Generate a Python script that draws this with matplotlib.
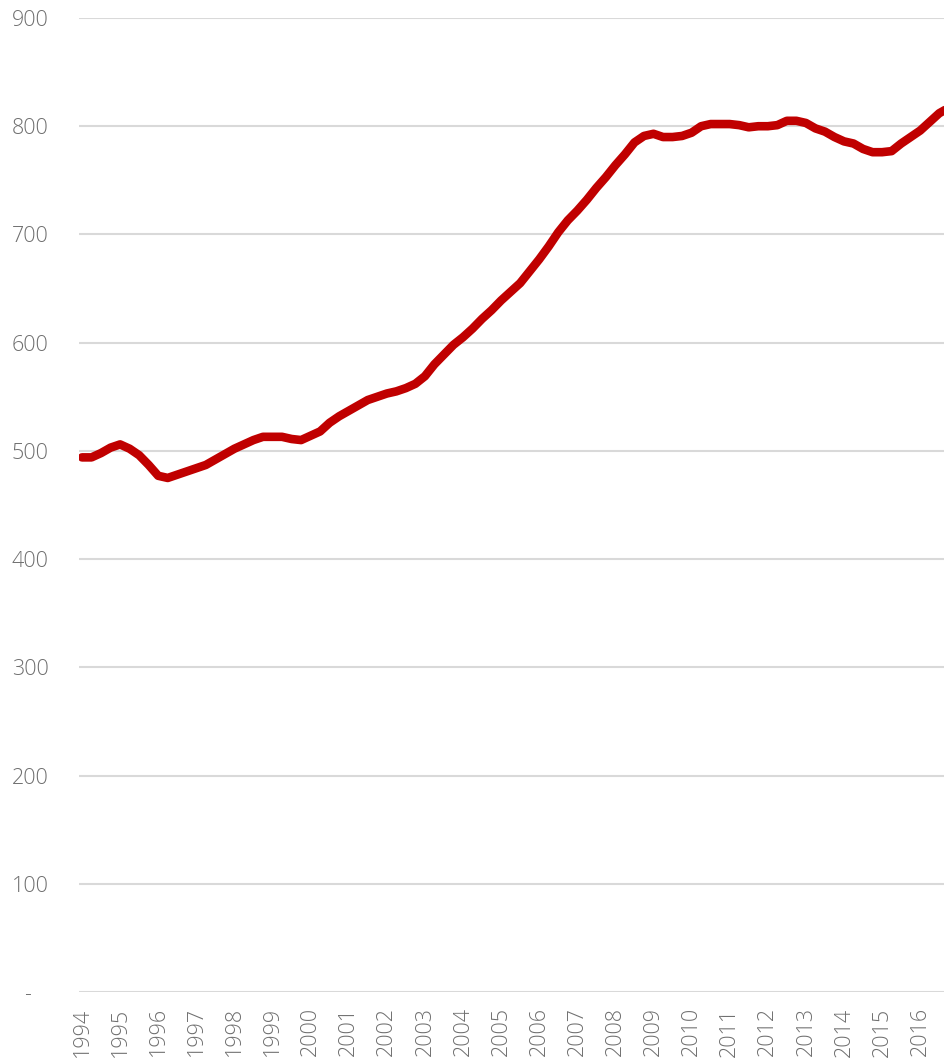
import matplotlib
matplotlib.use("Agg")
import matplotlib.pyplot as plt
import numpy as np

# Quarterly readings, starting Q1 1994
start_year = 1994
values = [
    494, 494, 498, 503,   # 1994
    506, 502, 496, 487,   # 1995
    477, 475, 478, 481,   # 1996
    484, 487, 492, 497,   # 1997
    502, 506, 510, 513,   # 1998
    513, 513, 511, 510,   # 1999
    514, 518, 526, 532,   # 2000
    537, 542, 547, 550,   # 2001
    553, 555, 558, 562,   # 2002
    569, 580, 589, 598,   # 2003
    605, 613, 622, 630,   # 2004
    639, 647, 655, 666,   # 2005
    677, 689, 702, 713,   # 2006
    722, 732, 743, 753,   # 2007
    764, 774, 785, 791,   # 2008
    793, 790, 790, 791,   # 2009
    794, 800, 802, 802,   # 2010
    802, 801, 799, 800,   # 2011
    800, 801, 805, 805,   # 2012
    803, 798, 795, 790,   # 2013
    786, 784, 779, 776,   # 2014
    776, 777, 784, 790,   # 2015
    796, 804, 812, 817,   # 2016
]
year_labels = [str(y) for y in range(1994, 2017)]
y_ticks = [0, 100, 200, 300, 400, 500, 600, 700, 800, 900]
y_tick_labels = ["-   ", "100", "200", "300", "400", "500", "600", "700", "800", "900"]

t = start_year + np.arange(len(values)) / 4.0

fig = plt.figure(figsize=(9.44, 10.58), dpi=100)
ax = fig.add_axes([79/944, 1 - 992/1058, 1 - 79/944, 974/1058])

ax.plot(t, values, color="#C00000", lw=6.2, solid_capstyle="round", solid_joinstyle="round", zorder=3)

ax.set_ylim(0, 900)
ax.set_xlim(1994 - 3/38.1, 1994 + 862/38.1)
ax.set_yticks(y_ticks)
ax.set_yticklabels(y_tick_labels)
ax.set_xticks(range(1994, 2017))
ax.set_xticklabels(year_labels, rotation=90)

for s in ax.spines.values():
    s.set_visible(False)
ax.grid(axis="y", color="#d9d9d9", lw=1.5, zorder=0)
ax.grid(axis="x", visible=False)
ax.tick_params(axis="both", length=0, labelsize=15.5, labelcolor="#6f6f6f")
ax.tick_params(axis="y", pad=22)
ax.tick_params(axis="x", pad=11)
for lab in ax.get_xticklabels() + ax.get_yticklabels():
    lab.set_fontfamily(["Open Sans", "DejaVu Sans"])
    lab.set_fontweight("light")

fig.savefig("out.png", dpi=100)
